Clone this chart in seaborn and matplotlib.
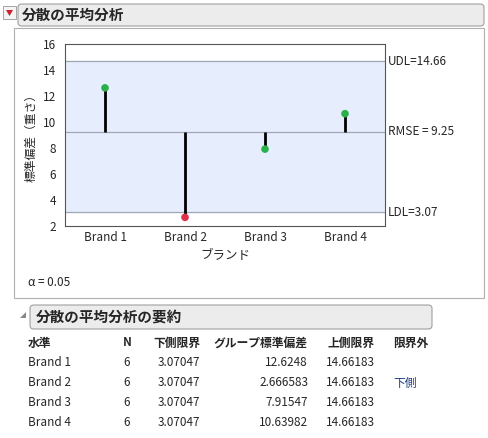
import matplotlib.pyplot as plt
import seaborn as sns
import pandas as pd
from matplotlib.patches import FancyBboxPatch, Rectangle, Polygon

brands = ["Brand 1", "Brand 2", "Brand 3", "Brand 4"]
std_dev = [12.6248, 2.666583, 7.91547, 10.63982]
n_obs = [6, 6, 6, 6]
ldl = 3.07047
udl = 14.66183
rmse = 9.25
out_flag = ["", "下側", "", ""]

sns.set_style("white")
plt.rcParams['font.family'] = ['Noto Sans CJK JP', 'DejaVu Sans']

W, H = 488, 438
fig = plt.figure(figsize=(W / 100, H / 100), dpi=100)

def fx(x): return x / W
def fy(y): return 1 - y / H

# header boxes
for (x0, y0, x1, y1, txt, tx) in [(18, 4, 484, 26, "分散の平均分析", 22),
                                  (30, 305, 432, 329, "分散の平均分析の要約", 36)]:
    fig.patches.append(FancyBboxPatch((fx(x0), fy(y1)), fx(x1 - x0), (y1 - y0) / H,
                                      boxstyle="round,pad=0,rounding_size=0.008",
                                      transform=fig.transFigure, fc="#ececec", ec="#a0a0a0", lw=0.8))
    fig.text(fx(tx), fy((y0 + y1) / 2), txt, fontsize=10.5, fontweight="bold", va="center")
fig.patches.append(Rectangle((fx(3), fy(19)), fx(13), 13 / H, transform=fig.transFigure,
                             fc="#f4f4f4", ec="#999999", lw=0.6))
fig.patches.append(Polygon([(fx(6), fy(10)), (fx(13), fy(10)), (fx(9.5), fy(16))],
                           transform=fig.transFigure, fc="#d0202a", ec="none"))
fig.patches.append(Polygon([(fx(20), fy(318)), (fx(26), fy(312)), (fx(26), fy(318))],
                           transform=fig.transFigure, fc="#888888", ec="none"))
fig.patches.append(Rectangle((fx(14), fy(298)), fx(470), 270 / H, transform=fig.transFigure,
                             fc="none", ec="#b0b0b0", lw=0.8))

ax = fig.add_axes([fx(65), fy(226), fx(320), 182 / H])
df = pd.DataFrame({"brand": brands, "sd": std_dev})
ax.axhspan(ldl, udl, color="#e6edfc", zorder=0)
for v in [ldl, rmse, udl]:
    ax.axhline(v, color="#a0a8b8", lw=0.9, zorder=1)
for i, v in enumerate(std_dev):
    ax.vlines(i, rmse, v, color="black", lw=2, zorder=2)
colors = ["#e0304a" if (v < ldl or v > udl) else "#2ab04a" for v in std_dev]
sns.scatterplot(data=df, x="brand", y="sd", hue="brand", palette=colors, s=30,
                edgecolor="none", legend=False, ax=ax, zorder=3)
ax.set_xlim(-0.5, 3.5)
ax.set_ylim(2, 16)
ax.set_yticks(range(2, 17, 2))
ax.set_xticks([0.5, 1.5, 2.5], minor=True)
ax.tick_params(axis="x", which="minor", length=4, direction="in")
ax.tick_params(axis="both", which="major", labelsize=8.5, length=3)
ax.tick_params(axis="x", which="major", length=0)
ax.set_xlabel("ブランド", fontsize=9)
ax.set_ylabel("標準偏差（重さ）", fontsize=8.5)
for s in ax.spines.values():
    s.set_color("#555555")
    s.set_linewidth(0.8)
for v, lab in [(udl, "UDL=14.66"), (rmse, "RMSE = 9.25"), (ldl, "LDL=3.07")]:
    ax.text(1.01, (v - 2) / 14, lab, transform=ax.transAxes, fontsize=8.5, va="center")

fig.text(fx(28), fy(283), "α = 0.05", fontsize=8.5, va="center")

# summary table
hy = 343
fig.text(fx(28), fy(hy), "水準", fontsize=8.5, fontweight="bold", va="center")
fig.text(fx(127), fy(hy), "N", fontsize=8.5, fontweight="bold", va="center", ha="center")
fig.text(fx(200), fy(hy), "下側限界", fontsize=8.5, fontweight="bold", va="center", ha="right")
fig.text(fx(308), fy(hy), "グループ標準偏差", fontsize=8.5, fontweight="bold", va="center", ha="right")
fig.text(fx(375), fy(hy), "上側限界", fontsize=8.5, fontweight="bold", va="center", ha="right")
fig.text(fx(393), fy(hy), "限界外", fontsize=8.5, fontweight="bold", va="center")
for i, b in enumerate(brands):
    y = fy(363 + 20 * i)
    fig.text(fx(28), y, b, fontsize=8.5, va="center")
    fig.text(fx(127), y, str(n_obs[i]), fontsize=8.5, va="center", ha="center")
    fig.text(fx(200), y, f"{ldl:.5f}", fontsize=8.5, va="center", ha="right")
    fig.text(fx(308), y, f"{std_dev[i]:.7g}", fontsize=8.5, va="center", ha="right")
    fig.text(fx(375), y, f"{udl:.5f}", fontsize=8.5, va="center", ha="right")
    fig.text(fx(393), y, out_flag[i], fontsize=8.5, va="center", color="#1a3a8a")

fig.savefig("out.png", dpi=100)
